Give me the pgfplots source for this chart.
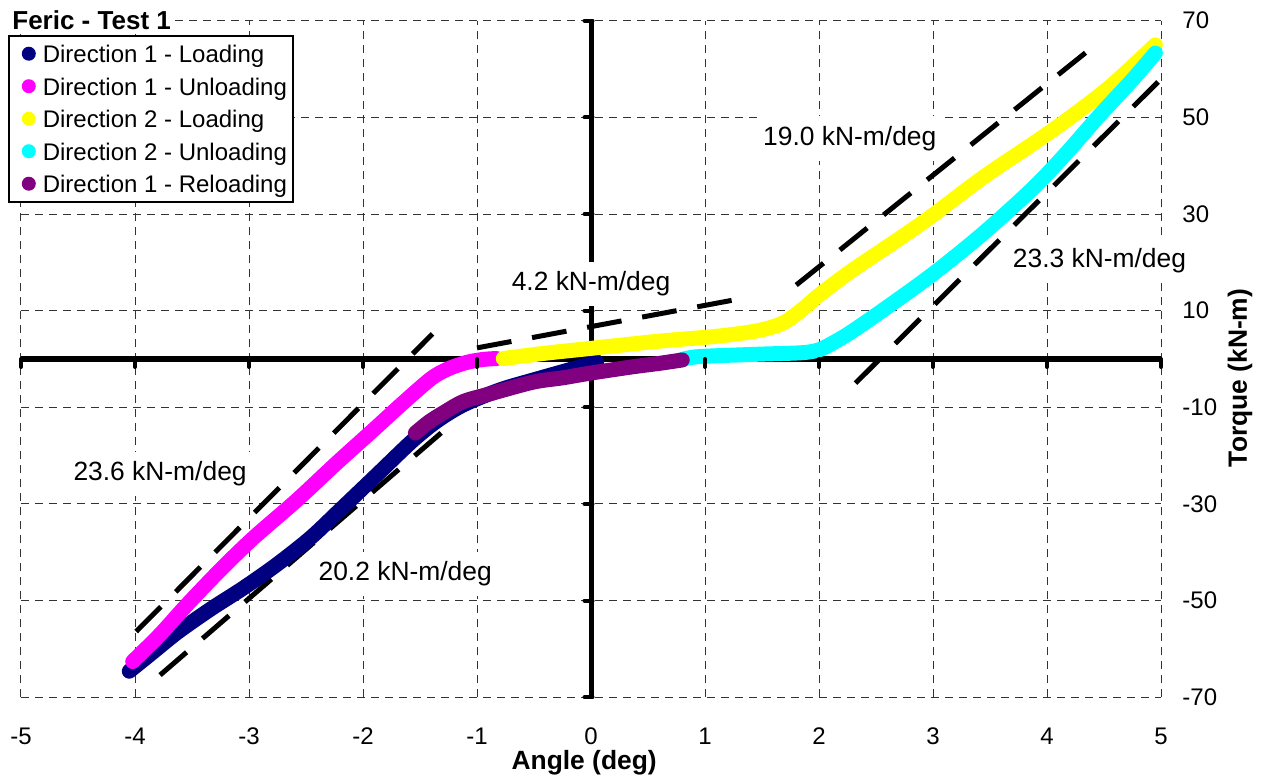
\documentclass[border=0pt]{standalone}
\usepackage{fontspec}
\setmainfont{Liberation Sans}
\usepackage{pgfplots}
\pgfplotsset{compat=1.18}
\definecolor{dnavy}{HTML}{000080}
\definecolor{dmag}{HTML}{FF00FF}
\definecolor{dyel}{HTML}{FFFF00}
\definecolor{dcyan}{HTML}{00FFFF}
\definecolor{dpurp}{HTML}{800080}
\pgfplotsset{
  circlegend/.style={legend image code/.code={%
    \path[draw=none, fill=none] (0pt,-3.5pt) rectangle (14pt,3.5pt);
    \path[draw=none, fill=#1] (7pt,0pt) circle (3.5pt);}},
  dataline/.style={color=#1, line width=7.5pt, line cap=round, line join=round, smooth, circlegend=#1},
}
\begin{document}
\fontsize{12pt}{14.4pt}\selectfont
\begin{tikzpicture}
\useasboundingbox (-10.5pt,-39.35pt) rectangle (620.5pt,348.65pt);
\begin{axis}[
  scale only axis, width=570pt, height=338.3pt,
  xmin=-5, xmax=5, ymin=-70, ymax=70,
  xtick={-5,-4,...,5}, ytick={-70,-50,...,70},
  axis line style={draw=none},
  major tick length=0pt,
  grid=major,
  major grid style={black!80, line width=0.5pt, dash pattern=on 4pt off 3pt},
  yticklabel pos=right,
  /pgf/number format/assume math mode=true,
  tick label style={font=\fontsize{12pt}{14.4pt}\selectfont},
  xticklabel style={anchor=center, yshift=-19.35pt},
  yticklabel style={anchor=west, inner sep=0pt, xshift=10.5pt},
  xlabel={Angle (deg)},
  ylabel={Torque (kN-m)},
  every axis x label/.style={at={(rel axis cs:0.494,0)}, anchor=center, yshift=-32.85pt, font=\fontsize{13.2pt}{15.8pt}\selectfont\bfseries},
  every axis y label/.style={at={(rel axis cs:1,0.472)}, xshift=39.5pt, rotate=90, anchor=center, font=\fontsize{13.2pt}{15.8pt}\selectfont\bfseries},
  clip=false,
  legend style={at={(rel axis cs:-0.0114,0.979)}, anchor=north west, draw=black, line width=0.8pt, fill=white,
    inner xsep=3pt, inner ysep=3pt, row sep=4.25pt, column sep=0pt,
    font=\fontsize{12pt}{14.4pt}\selectfont,
    nodes={inner sep=0pt, text height=10.5pt, text depth=1.5pt}},
  legend cell align=left,
]
% slope lines
\addplot[black, line width=2.5pt, dash pattern=on 17.5pt off 10.5pt, forget plot] coordinates {(-1.0,2.3) (1.25,12.2)};
\addplot[black, line width=2.5pt, dash pattern=on 17.5pt off 10.5pt, forget plot] coordinates {(1.80,15.3) (4.35,63.6)};
\addplot[black, line width=2.5pt, dash pattern=on 17.5pt off 10.5pt, forget plot] coordinates {(2.32,-5.0) (4.99,57.7)};
\addplot[black, line width=2.5pt, dash pattern=on 17.5pt off 10.5pt, forget plot] coordinates {(-3.99,-56.4) (-1.39,5.2)};
\addplot[black, line width=2.5pt, dash pattern=on 17.5pt off 10.5pt, forget plot] coordinates {(-3.78,-65.4) (-1.30,-15.0)};
% zero axes
\addplot[black, line width=2.75pt, forget plot] coordinates {(-5,0) (5,0)};
\addplot[black, line width=2.5pt, forget plot] coordinates {(0,-70) (0,70)};
\addplot[black, only marks, mark=|, mark size=2pt, mark options={line width=2pt, line cap=round}, forget plot]
  coordinates {(-5,-0.83) (-4,-0.83) (-3,-0.83) (-2,-0.83) (-1,-0.83) (1,-0.83) (2,-0.83) (3,-0.83) (4,-0.83) (5,-0.83)};
\addplot[black, only marks, mark=-, mark size=2pt, mark options={line width=2pt, line cap=round}, forget plot]
  coordinates {(-0.022,-70) (-0.022,-50) (-0.022,-30) (-0.022,-10) (-0.022,10) (-0.022,30) (-0.022,50) (-0.022,70)};
% data
\addplot[dataline=dnavy] coordinates {
(-4.05,-64.6) (-3.85,-60.8) (-3.63,-56.6) (-3.34,-51.8) (-3.05,-47.4) (-2.76,-42.6) (-2.46,-37.0) (-2.20,-31.2)
(-1.88,-24.0) (-1.57,-17.0) (-1.35,-12.8) (-1.12,-9.5) (-0.8,-6.4) (-0.5,-4.3) (-0.2,-2.3) (0.05,-0.6)};
\addlegendentry{Direction 1 - Loading}
\addplot[dataline=dmag] coordinates {
(-4.02,-62.6) (-3.78,-57.0) (-3.55,-51.0) (-3.25,-43.6) (-2.96,-37.0) (-2.58,-29.2) (-2.23,-21.5)
(-1.91,-14.7) (-1.65,-9.1) (-1.40,-4.0) (-1.25,-2.0) (-1.09,-0.7) (-0.95,-0.1) (-0.83,0.1)};
\addlegendentry{Direction 1 - Unloading}
\addplot[dataline=dyel] coordinates {
(-0.77,0.1) (-0.4,1.2) (0,2.2) (0.6,3.7) (1.1,4.7) (1.45,5.8) (1.68,7.4) (1.85,10.2) (2.0,13.2) (2.27,18.0)
(2.71,25.0) (3.0,29.8) (3.44,37.6) (3.88,44.6) (4.17,49.4) (4.55,56.3) (4.95,65.0)};
\addlegendentry{Direction 2 - Loading}
\addplot[dataline=dcyan] coordinates {
(0.80,-0.1) (0.95,0.5) (1.48,1.0) (1.85,1.3) (2.0,1.9) (2.12,3.3) (2.27,5.4) (2.56,10.1) (3.0,17.6) (3.44,26.0)
(3.88,35.4) (4.17,42.6) (4.46,50.4) (4.75,57.8) (4.95,63.3)};
\addlegendentry{Direction 2 - Unloading}
\addplot[dataline=dpurp] coordinates {
(-1.54,-15.3) (-1.42,-13.0) (-1.30,-11.2) (-1.12,-8.8) (-0.9,-7.3) (-0.51,-4.8) (-0.25,-3.9) (0,-2.9)
(0.37,-1.6) (0.6,-0.9) (0.80,-0.2)};
\addlegendentry{Direction 1 - Reloading}
% annotations
\begin{scope}[every node/.style={fill=white, inner xsep=3pt, inner ysep=5pt, font=\fontsize{13.2pt}{15.8pt}\selectfont}]
\node at (axis cs:0,15.5) {4.2 kN-m/deg};
\node at (axis cs:2.27,45.6) {19.0 kN-m/deg};
\node at (axis cs:4.46,20.4) {23.3 kN-m/deg};
\node at (axis cs:-3.78,-23.8) {23.6 kN-m/deg};
\node at (axis cs:-1.63,-44.5) {20.2 kN-m/deg};
\end{scope}
\node[fill=white, inner sep=2pt, anchor=west, font=\fontsize{13pt}{15.6pt}\selectfont\bfseries] at (rel axis cs:-0.0114,1.001) {Feric - Test 1};
\end{axis}
\end{tikzpicture}
\end{document}
